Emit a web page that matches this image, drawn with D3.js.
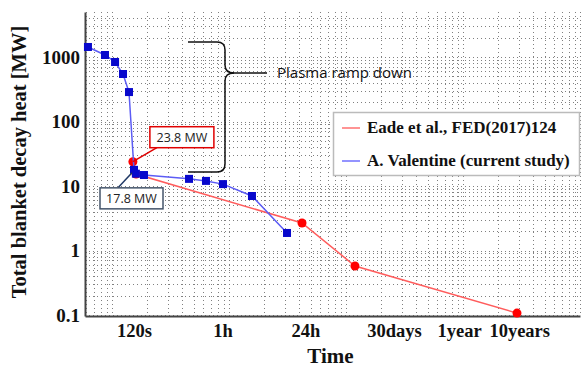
<!DOCTYPE html>
<html>
<head>
<meta charset="utf-8">
<script src="https://cdn.jsdelivr.net/npm/d3@7"></script>
<style>
  body { margin: 0; background: #fff; }
  svg { display: block; }
</style>
</head>
<body>
<script>
// decay heat data, time in seconds
var blueTime = [20.5, 39.4, 58, 78.7, 99, 120, 129, 176, 991, 1900, 3650, 11100, 42600];
var blueHeat = [1430, 1074, 837, 545, 286, 17.8, 15.5, 14.8, 12.9, 12.0, 10.7, 7.0, 1.87];

var redTime = [115, 130, 75700, 578000, 2.9e8];
var redHeat = [23.8, 15.3, 2.67, 0.575, 0.107];

var timeTicks = [120, 3600, 86400, 2592000, 31557600, 315576000];
var timeLabels = ["120s", "1h", "24h", "30days", "1year", "10years"];
var heatTicks = [0.1, 1, 10, 100, 1000];
var heatLabels = ["0.1", "1", "10", "100", "1000"];

var legendLabels = ["Eade et al., FED(2017)124", "A. Valentine (current study)"];

var w = 584;
var h = 367;
var pLeft = 85, pRight = 580, pTop = 12, pBottom = 316;

var svg = d3.select("body")
  .append("svg")
  .attr("width", w)
  .attr("height", h);

var x = d3.scaleLog()
  .domain([Math.pow(10, 1.2625), Math.pow(10, 9.5125)])
  .range([pLeft, pRight]);

var y = d3.scaleLog()
  .domain([Math.pow(10, -1.0155), Math.pow(10, 3.6977)])
  .range([pBottom, pTop]);

// the vertical grid of the original follows its own log spacing
var gridX = d3.scaleLog()
  .domain([Math.pow(10, (pLeft - pRight) / 117), 1])
  .range([pLeft, pRight]);

var grid = svg.append("g")
  .attr("stroke", "#808080")
  .attr("stroke-width", 1)
  .attr("stroke-dasharray", "1,3");

grid.selectAll("line.v")
  .data(gridX.ticks())
  .enter()
  .append("line")
  .attr("class", "v")
  .attr("x1", function(d) { return Math.round(gridX(d)) + 0.5; })
  .attr("x2", function(d) { return Math.round(gridX(d)) + 0.5; })
  .attr("y1", pTop)
  .attr("y2", pBottom);

grid.selectAll("line.h")
  .data(y.ticks())
  .enter()
  .append("line")
  .attr("class", "h")
  .attr("x1", pLeft)
  .attr("x2", pRight)
  .attr("y1", function(d) { return Math.round(y(d)) + 0.5; })
  .attr("y2", function(d) { return Math.round(y(d)) + 0.5; });

// axes
var xAxis = d3.axisBottom(x)
  .tickValues(timeTicks)
  .tickFormat(function(d, i) { return timeLabels[i]; })
  .tickSize(0);

var gx = svg.append("g")
  .attr("transform", "translate(0," + pBottom + ")")
  .call(xAxis);
gx.select(".domain").attr("stroke", "#444").attr("stroke-width", 2);
gx.selectAll("text")
  .attr("y", 21)
  .attr("dy", null)
  .attr("fill", "#111")
  .style("font-family", "'Liberation Serif', 'Times New Roman', serif")
  .style("font-weight", "bold")
  .style("font-size", "18.5px");

var yAxis = d3.axisLeft(y)
  .tickValues(heatTicks)
  .tickFormat(function(d, i) { return heatLabels[i]; })
  .tickSize(0)
  .tickPadding(5);

var gy = svg.append("g")
  .attr("transform", "translate(" + pLeft + ",0)")
  .call(yAxis);
gy.select(".domain").attr("stroke", "#444").attr("stroke-width", 2);
gy.selectAll("text")
  .attr("fill", "#111")
  .style("font-family", "'Liberation Serif', 'Times New Roman', serif")
  .style("font-weight", "bold")
  .style("font-size", "19px");

svg.append("text")
  .attr("x", (pLeft + pRight) / 2 - 2)
  .attr("y", 363)
  .attr("text-anchor", "middle")
  .attr("fill", "#111")
  .style("font-family", "'Liberation Serif', serif")
  .style("font-weight", "bold")
  .style("font-size", "21px")
  .text("Time");

svg.append("text")
  .attr("transform", "translate(26,162) rotate(-90)")
  .attr("text-anchor", "middle")
  .attr("fill", "#111")
  .style("font-family", "'Liberation Serif', serif")
  .style("font-weight", "bold")
  .style("font-size", "20.5px")
  .text("Total blanket decay heat [MW]");

// series
var line = d3.line()
  .x(function(d) { return x(d[0]); })
  .y(function(d) { return y(d[1]); });

var redData = d3.zip(redTime, redHeat);
var blueData = d3.zip(blueTime, blueHeat);

svg.append("path")
  .datum(redData)
  .attr("fill", "none")
  .attr("stroke", "#ff5c5c")
  .attr("stroke-width", 1.5)
  .attr("d", line);

svg.selectAll("circle.red")
  .data(redData)
  .enter()
  .append("circle")
  .attr("class", "red")
  .attr("cx", function(d) { return x(d[0]); })
  .attr("cy", function(d) { return y(d[1]); })
  .attr("r", 4.5)
  .attr("fill", "#ff0000");

svg.append("path")
  .datum(blueData)
  .attr("fill", "none")
  .attr("stroke", "#5c5cf5")
  .attr("stroke-width", 1.5)
  .attr("d", line);

svg.selectAll("rect.blue")
  .data(blueData)
  .enter()
  .append("rect")
  .attr("class", "blue")
  .attr("x", function(d) { return x(d[0]) - 4; })
  .attr("y", function(d) { return y(d[1]) - 4; })
  .attr("width", 8)
  .attr("height", 8)
  .attr("fill", "#0808cc");

// annotations
var annFont = "'Open Sans', 'Noto Sans', sans-serif";

var px = x(redTime[0]), py = y(redHeat[0]);
svg.append("line")
  .attr("x1", px + 24).attr("y1", py - 14)
  .attr("x2", px).attr("y2", py)
  .attr("stroke", "#e00000").attr("stroke-width", 1.5);
svg.append("rect")
  .attr("x", px + 17).attr("y", py - 35)
  .attr("width", 64).attr("height", 21)
  .attr("fill", "#fff")
  .attr("stroke", "#e00000").attr("stroke-width", 1.5);
svg.append("text")
  .attr("x", px + 49).attr("y", py - 20)
  .attr("text-anchor", "middle")
  .attr("fill", "#222")
  .style("font-family", annFont)
  .style("font-size", "12.5px")
  .text(redHeat[0] + " MW");

var qx = x(blueTime[5]), qy = y(blueHeat[5]);
svg.append("line")
  .attr("x1", qx - 16).attr("y1", qy + 18)
  .attr("x2", qx - 2).attr("y2", qy + 3)
  .attr("stroke", "#1f3864").attr("stroke-width", 1.5);
svg.append("rect")
  .attr("x", qx - 34).attr("y", qy + 18)
  .attr("width", 63).attr("height", 21)
  .attr("fill", "#fff")
  .attr("stroke", "#44546a").attr("stroke-width", 1.5);
svg.append("text")
  .attr("x", qx - 2.5).attr("y", qy + 33)
  .attr("text-anchor", "middle")
  .attr("fill", "#222")
  .style("font-family", annFont)
  .style("font-size", "12.5px")
  .text(blueHeat[5] + " MW");

// curly brace for the ramp down phase
svg.append("path")
  .attr("d", "M188,42 H217 Q225,42 225,50 V65 Q225,73 234,73 Q225,73 225,81 V164 Q225,172 217,172 H188")
  .attr("fill", "none")
  .attr("stroke", "#111")
  .attr("stroke-width", 1.5);
svg.append("line")
  .attr("x1", 232).attr("y1", 73)
  .attr("x2", 267).attr("y2", 73)
  .attr("stroke", "#111").attr("stroke-width", 1.3);
svg.append("text")
  .attr("x", 277).attr("y", 78)
  .attr("fill", "#111")
  .style("font-family", annFont)
  .style("font-size", "15px")
  .text("Plasma ramp down");

// legend
var legend = svg.append("g");
legend.append("rect")
  .attr("x", 333.5).attr("y", 112.5)
  .attr("width", 246).attr("height", 63)
  .attr("fill", "#fff")
  .attr("stroke", "#bbb").attr("stroke-width", 1.5);

var legendColors = ["#ff7070", "#7070ff"];
var items = legend.selectAll("g.item")
  .data(legendLabels)
  .enter()
  .append("g")
  .attr("class", "item")
  .attr("transform", function(d, i) { return "translate(0," + (128 + i * 33) + ")"; });

items.append("line")
  .attr("x1", 342).attr("x2", 360)
  .attr("y1", 0).attr("y2", 0)
  .attr("stroke", function(d, i) { return legendColors[i]; })
  .attr("stroke-width", 1.5);

items.append("text")
  .attr("x", 367).attr("y", 5)
  .attr("fill", "#111")
  .style("font-family", "'Liberation Serif', serif")
  .style("font-weight", "bold")
  .style("font-size", "17px")
  .text(function(d) { return d; });
</script>
</body>
</html>
